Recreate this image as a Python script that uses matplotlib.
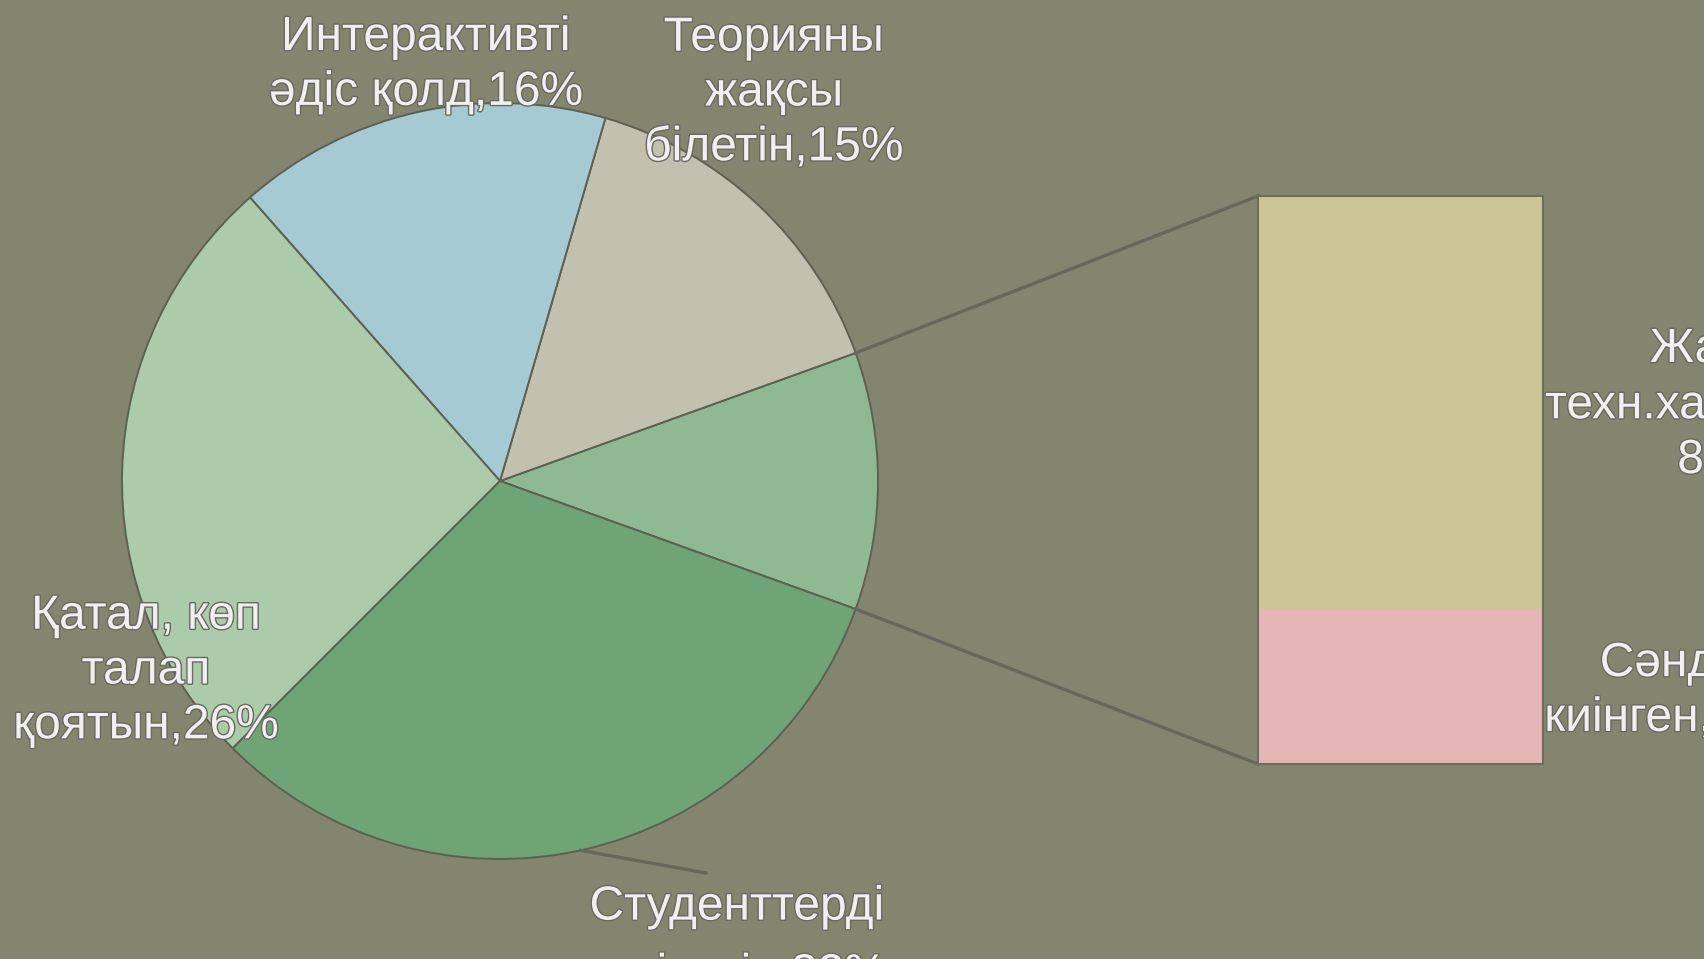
import numpy as np
import matplotlib.pyplot as plt
import matplotlib.patheffects as pe

# Деректер
pie_labels = ['Басқалары', 'Теорияны\nжақсы\nбілетін,15%', 'Интерактивті\nәдіс қолд,16%',
              'Қатал, көп\nталап\nқоятын,26%', 'Студенттерді\nтүсінетін,32%']
pie_values = [11, 15, 16, 26, 32]
pie_colors = ['#8FB993', '#C2C0AE', '#A6CAD4', '#ABCBAA', '#6EA476']

bar_labels = ['Сәнді\nкиінген,3%', 'Жаңа\nтехн.хабардар,\n8%']
bar_values = [3, 8]
bar_colors = ['#E6B5B5', '#CCC696']

bg = '#83856F'
edge = '#5E6152'
txt = '#F0F0F0'

fig = plt.figure(figsize=(17.04, 9.59), dpi=100, facecolor=bg)
ax = fig.add_axes([0, 0, 1, 1])
ax.set_facecolor(bg)

# Дөңгелек диаграмма
cx, cy, r = 500, 478, 378
start = -360 * pie_values[0] / sum(pie_values) / 2
wedges, _ = ax.pie(pie_values, colors=pie_colors, startangle=start, counterclock=True,
                   center=(cx, cy), radius=r, frame=True,
                   wedgeprops=dict(edgecolor=edge, linewidth=1.4))
ax.set_xlim(0, 1704)
ax.set_ylim(0, 959)
ax.set_aspect('equal')
ax.axis('off')

# Бағаналы диаграмма
bx0, bx1, by0, by1 = 1258, 1543, 195, 763
scale = (by1 - by0) / sum(bar_values)
bottom = by0
for v, c in zip(bar_values, bar_colors):
    ax.bar((bx0 + bx1) / 2, v * scale, width=bx1 - bx0, bottom=bottom, color=c,
           edgecolor='none', zorder=2)
    bottom += v * scale
ax.add_patch(plt.Rectangle((bx0, by0), bx1 - bx0, by1 - by0, fill=False,
                           edgecolor='#6B6E5E', linewidth=1.5, zorder=3))

# Байланыс сызықтары
w = wedges[0]
for ang, yb in [(w.theta2, by1), (w.theta1, by0)]:
    px = cx + r * np.cos(np.radians(ang))
    py = cy + r * np.sin(np.radians(ang))
    ax.plot([px, bx0], [py, yb], color='#65685B', linewidth=2.4, zorder=1)

# Студенттер жазуына сілтеме
ang = -77.7
ax.plot([cx + r * np.cos(np.radians(ang)), 706], [cy + r * np.sin(np.radians(ang)), 86],
        color='#65685B', linewidth=2.4, zorder=1)

fx = [pe.withStroke(linewidth=2, foreground='#6A6A62')]
font = 'Liberation Sans'
fs = 34.5


def label(x, y, s, ls=1.28):
    ax.text(x, y, s, ha='center', va='center', color=txt, fontsize=fs,
            family=font, linespacing=ls, path_effects=fx, zorder=5)


label(774, 959 - 93, pie_labels[1])
label(426, 959 - 65, pie_labels[2])
label(146, 959 - 671, pie_labels[3])
label(737, 959 - 941, pie_labels[4], ls=1.65)

bar_pos = [(1663, 959 - 691), (1712, 959 - 405)]
for lab, (x, y) in zip(bar_labels, bar_pos):
    label(x, y, lab)

fig.savefig('out.png', dpi=100, facecolor=bg)
